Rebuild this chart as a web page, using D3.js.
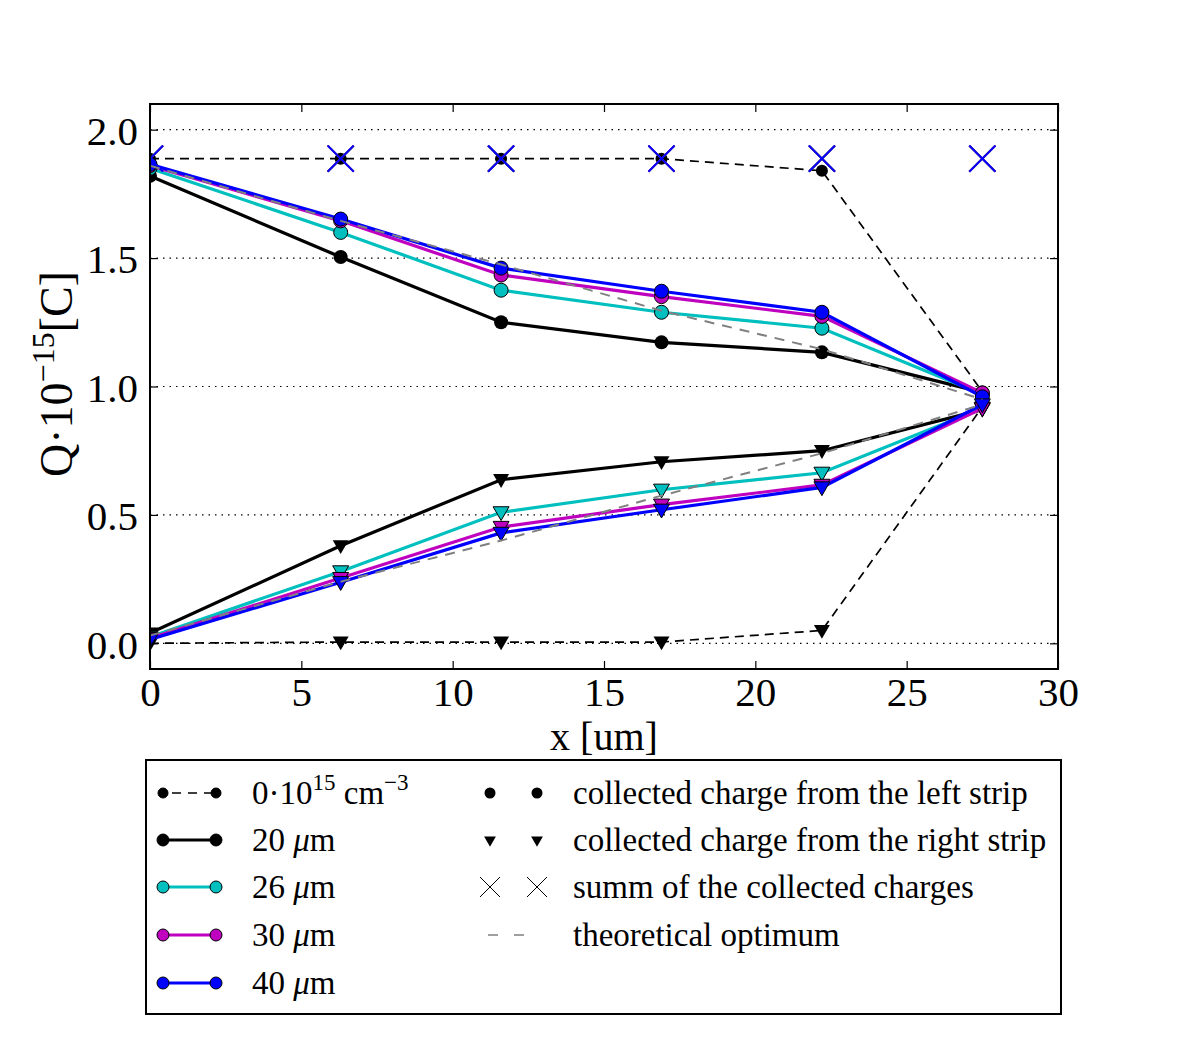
<!DOCTYPE html>
<html lang="en">
<head>
<meta charset="UTF-8">
<title>Collected charge vs x</title>
<script src="https://cdn.jsdelivr.net/npm/d3@7"></script>
<style>
  body { margin: 0; background: #fff; }
  text { font-family: "Liberation Serif", "DejaVu Serif", serif; fill: #000; }
</style>
</head>
<body>
<svg id="chart" width="1198" height="1050"></svg>
<script>
// positions along the strip (um)
const xPos = [0, 6.3, 11.6, 16.9, 22.2, 27.5];

// collected charge from the left strip (circles)
const leftDop0 = [1.887, 1.887, 1.887, 1.887, 1.84, 0.98];
const left20 = [1.82, 1.504, 1.25, 1.172, 1.133, 0.977];
const left26 = [1.85, 1.60, 1.375, 1.289, 1.227, 0.97];
const left30 = [1.86, 1.645, 1.434, 1.35, 1.273, 0.975];
const left40 = [1.865, 1.652, 1.461, 1.371, 1.289, 0.96];

// collected charge from the right strip (triangles)
const rightDop0 = [0.0, 0.005, 0.005, 0.005, 0.05, 0.92];
const right20 = [0.04, 0.38, 0.637, 0.707, 0.75, 0.91];
const right26 = [0.025, 0.28, 0.51, 0.598, 0.664, 0.915];
const right30 = [0.02, 0.254, 0.453, 0.54, 0.617, 0.915];
const right40 = [0.015, 0.238, 0.43, 0.52, 0.607, 0.93];

// summ of the collected charges
const sumCharge = [1.887, 1.887, 1.887, 1.887, 1.887, 1.887];

// theoretical optimum
const optLeft = [1.86, 1.645, 1.475, 1.295, 1.145, 0.95];
const optRight = [0.03, 0.24, 0.40, 0.575, 0.74, 0.93];

const xTicks = [0, 5, 10, 15, 20, 25, 30];
const yTicks = [0.0, 0.5, 1.0, 1.5, 2.0];

const series = [
  { name: "dop0", color: "#000", left: leftDop0, right: rightDop0, dashed: true },
  { name: "20", color: "#000", left: left20, right: right20 },
  { name: "26", color: "#00bfbf", left: left26, right: right26 },
  { name: "30", color: "#bf00bf", left: left30, right: right30 },
  { name: "40", color: "#0000ff", left: left40, right: right40 }
];

const svg = d3.select("#chart");
const m = { left: 150, right: 1058, top: 104, bottom: 669 };

const x = d3.scaleLinear().domain([0, 30]).range([m.left, m.right]);
const y = d3.scaleLinear().domain([-0.1, 2.1]).range([m.bottom, m.top]);

svg.append("defs").append("clipPath").attr("id", "clip")
  .append("rect")
  .attr("x", m.left).attr("y", m.top)
  .attr("width", m.right - m.left).attr("height", m.bottom - m.top);

// dotted horizontal grid
svg.append("g").selectAll("line").data(yTicks).enter().append("line")
  .attr("x1", m.left).attr("x2", m.right)
  .attr("y1", d => y(d)).attr("y2", d => y(d))
  .attr("stroke", "#000").attr("stroke-width", 1.2)
  .attr("stroke-dasharray", "1.5,5");

const plot = svg.append("g").attr("clip-path", "url(#clip)");
const line = d3.line().x((d, i) => x(xPos[i])).y(d => y(d));

const tri = d3.symbol().type(d3.symbolTriangle).size(110);

series.forEach(s => {
  [s.left, s.right].forEach(vals => {
    plot.append("path").datum(vals)
      .attr("d", line)
      .attr("fill", "none")
      .attr("stroke", s.color)
      .attr("stroke-width", s.dashed ? 1.7 : 3.2)
      .attr("stroke-dasharray", s.dashed ? "9,6" : null);
  });
  const edge = s.color === "#000" ? "none" : "#000";
  plot.append("g").selectAll("circle").data(s.left).enter().append("circle")
    .attr("cx", (d, i) => x(xPos[i])).attr("cy", d => y(d))
    .attr("r", s.dashed ? 6 : 7)
    .attr("fill", s.color).attr("stroke", edge).attr("stroke-width", 1);
  plot.append("g").selectAll("path").data(s.right).enter().append("path")
    .attr("d", tri)
    .attr("transform", (d, i) => `translate(${x(xPos[i])},${y(d) - 1}) rotate(180)`)
    .attr("fill", s.color).attr("stroke", edge).attr("stroke-width", 1);
  plot.append("g").selectAll("g").data(sumCharge).enter().append("g")
    .attr("transform", (d, i) => `translate(${x(xPos[i])},${y(d)})`)
    .each(function () {
      const g = d3.select(this);
      [[-13, -13, 13, 13], [-13, 13, 13, -13]].forEach(c => {
        g.append("line").attr("x1", c[0]).attr("y1", c[1]).attr("x2", c[2]).attr("y2", c[3])
          .attr("stroke", s.color).attr("stroke-width", 1.8);
      });
    });
});

// theoretical optimum on top
[optLeft, optRight].forEach(vals => {
  plot.append("path").datum(vals)
    .attr("d", line)
    .attr("fill", "none")
    .attr("stroke", "#808080")
    .attr("stroke-width", 2)
    .attr("stroke-dasharray", "10,8");
});

// frame
svg.append("rect")
  .attr("x", m.left).attr("y", m.top)
  .attr("width", m.right - m.left).attr("height", m.bottom - m.top)
  .attr("fill", "none").attr("stroke", "#000").attr("stroke-width", 2);

// axes with inward ticks
const tickLen = 8;
const gx = svg.append("g").attr("transform", `translate(0,${m.bottom})`)
  .call(d3.axisBottom(x).tickValues(xTicks).tickSize(-tickLen).tickPadding(8).tickFormat(d3.format("d")));
const gxTop = svg.append("g").attr("transform", `translate(0,${m.top})`)
  .call(d3.axisTop(x).tickValues(xTicks).tickSize(-tickLen).tickFormat(""));
const gy = svg.append("g").attr("transform", `translate(${m.left},0)`)
  .call(d3.axisLeft(y).tickValues(yTicks).tickSize(-tickLen).tickPadding(12).tickFormat(d3.format(".1f")));
const gyRight = svg.append("g").attr("transform", `translate(${m.right},0)`)
  .call(d3.axisRight(y).tickValues(yTicks).tickSize(-tickLen).tickFormat(""));

[gx, gxTop, gy, gyRight].forEach(g => {
  g.select(".domain").remove();
  g.selectAll(".tick line").attr("stroke", "#000").attr("stroke-width", 1.2);
  g.selectAll(".tick text").style("font-family", "'Liberation Serif', 'DejaVu Serif', serif")
    .style("font-size", "41px").attr("fill", "#000");
});
gy.selectAll(".tick text").attr("dy", "0.36em");

// legend (drawn before the x label so the label stays visible)
const lg = svg.append("g");
lg.append("rect").attr("x", 146).attr("y", 760).attr("width", 915).attr("height", 254)
  .attr("fill", "#fff").attr("stroke", "#000").attr("stroke-width", 2);

// axis labels
svg.append("text").attr("x", 604).attr("y", 750)
  .attr("text-anchor", "middle").style("font-size", "40px").text("x [um]");

const yl = svg.append("text")
  .attr("transform", "translate(72,374) rotate(-90)")
  .attr("text-anchor", "middle").style("font-size", "46px");
yl.append("tspan").text("Q·10");
yl.append("tspan").attr("dy", -18).style("font-size", "32px").text("−15");
yl.append("tspan").attr("dy", 18).text("[C]");

const rowY = [793, 840, 887, 935, 983];
const legendLabels = [
  ["0·10", "15", " cm", "−3"],
  ["20", null, " μm"],
  ["26", null, " μm"],
  ["30", null, " μm"],
  ["40", null, " μm"]
];

series.forEach((s, i) => {
  const yy = rowY[i];
  lg.append("line").attr("x1", 163).attr("x2", 216).attr("y1", yy).attr("y2", yy)
    .attr("stroke", s.color).attr("stroke-width", s.dashed ? 1.7 : 3)
    .attr("stroke-dasharray", s.dashed ? "9,7" : null)
    .attr("stroke-dashoffset", s.dashed ? -9 : 0);
  [163, 216].forEach(cx => {
    lg.append("circle").attr("cx", cx).attr("cy", yy).attr("r", s.dashed ? 5 : 6)
      .attr("fill", s.color).attr("stroke", "#000").attr("stroke-width", 1);
  });
  const t = lg.append("text").attr("x", 252).attr("y", yy + 11).style("font-size", "33px");
  const lab = legendLabels[i];
  if (i === 0) {
    t.append("tspan").text(lab[0]);
    t.append("tspan").attr("dy", -14).style("font-size", "23px").text(lab[1]);
    t.append("tspan").attr("dy", 14).text(lab[2]);
    t.append("tspan").attr("dy", -14).style("font-size", "23px").text(lab[3]);
  } else {
    t.append("tspan").text(lab[0] + " ");
    t.append("tspan").style("font-style", "italic").text("μ");
    t.append("tspan").text("m");
  }
});

const rightLabels = [
  "collected charge from the left strip",
  "collected charge from the right strip",
  "summ of the collected charges",
  "theoretical optimum"
];
const mx = [490, 537];
// circles
mx.forEach(cx => lg.append("circle").attr("cx", cx).attr("cy", rowY[0]).attr("r", 5.5).attr("fill", "#000"));
// triangles
mx.forEach(cx => lg.append("path").attr("d", d3.symbol().type(d3.symbolTriangle).size(60))
  .attr("transform", `translate(${cx},${rowY[1]}) rotate(180)`).attr("fill", "#000"));
// crosses
mx.forEach(cx => {
  [[-10, -10, 10, 10], [-10, 10, 10, -10]].forEach(c => {
    lg.append("line").attr("x1", cx + c[0]).attr("y1", rowY[2] + c[1])
      .attr("x2", cx + c[2]).attr("y2", rowY[2] + c[3])
      .attr("stroke", "#000").attr("stroke-width", 1);
  });
});
// gray dashes
lg.append("line").attr("x1", 488).attr("x2", 540).attr("y1", rowY[3]).attr("y2", rowY[3])
  .attr("stroke", "#808080").attr("stroke-width", 1.6).attr("stroke-dasharray", "10,16");

rightLabels.forEach((txt, i) => {
  lg.append("text").attr("x", 573).attr("y", rowY[i] + 11).style("font-size", "33px").text(txt);
});
</script>
</body>
</html>
